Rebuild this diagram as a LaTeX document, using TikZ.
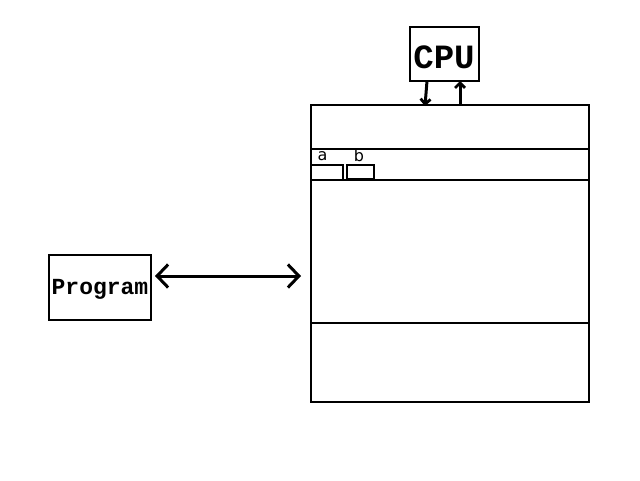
\documentclass[tikz,border=0pt]{standalone}
\usepackage{fontspec}
\usetikzlibrary{arrows.meta}
\newfontfamily\monobold{Liberation Mono}[BoldFont=* Bold]
\newfontfamily\labelfont{DejaVu Sans}
\begin{document}
\begin{tikzpicture}[x=1pt,y=-1pt,
  box/.style={draw, line width=2.8pt, inner sep=0pt, outer sep=0pt, anchor=north west},
  cell/.style={draw, line width=2.6pt, inner sep=0pt, outer sep=0pt, anchor=north west},
  lbl/.style={font=\labelfont\fontsize{16}{16}\selectfont, inner sep=0pt},
  barb/.tip={Straight Barb[length=11pt,width=23pt,line width=3pt]},
  link/.style={line width=3pt, barb-barb},
  bus/.style={line width=3pt, -{Straight Barb[length=5pt,width=10pt,line width=2.8pt]}}]
\useasboundingbox (0,0) rectangle (640,480);
% processor
\node[box, minimum width=69pt, minimum height=54pt] (cpu) at (410,27) {};
\node[font=\monobold\bfseries\fontsize{34}{34}\selectfont, inner sep=0pt] at (444,57) {CPU};
% memory block
\node[box, minimum width=278pt, minimum height=297pt] (mem) at (311,105) {};
\coordinate (r1l) at (311,149); \coordinate (r1r) at (589,149);
\coordinate (r2l) at (311,180); \coordinate (r2r) at (589,180);
\coordinate (r3l) at (311,323); \coordinate (r3r) at (589,323);
\draw[line width=1.6pt] (r1l) -- (r1r);
\draw[line width=2.8pt] (r2l) -- (r2r);
\draw[line width=2.8pt] (r3l) -- (r3r);
% variable cells
\node[cell, minimum width=32pt, minimum height=15pt] (ca) at (311,165) {};
\node[cell, minimum width=27pt, minimum height=14pt] (cb) at (347,165) {};
\node[lbl] (la) at (322.5,156) {a};
\node[lbl] (lb) at (359,156) {b};
% bus between processor and memory
\coordinate (d1) at (427,81); \coordinate (d2) at (425,106);
\coordinate (u1) at (460,105); \coordinate (u2) at (460,81);
\draw[bus] (d1) -- (d2);
\draw[bus] (u1) -- (u2);
% program
\node[box, minimum width=102pt, minimum height=65pt] (prog) at (49,255) {};
\node[font=\monobold\bfseries\fontsize{23}{23}\selectfont, inner sep=0pt] at (100,289) {Program};
\coordinate (pl) at (155,276); \coordinate (pr) at (301,276);
\draw[link] (pl) -- (pr);
\end{tikzpicture}
\end{document}
